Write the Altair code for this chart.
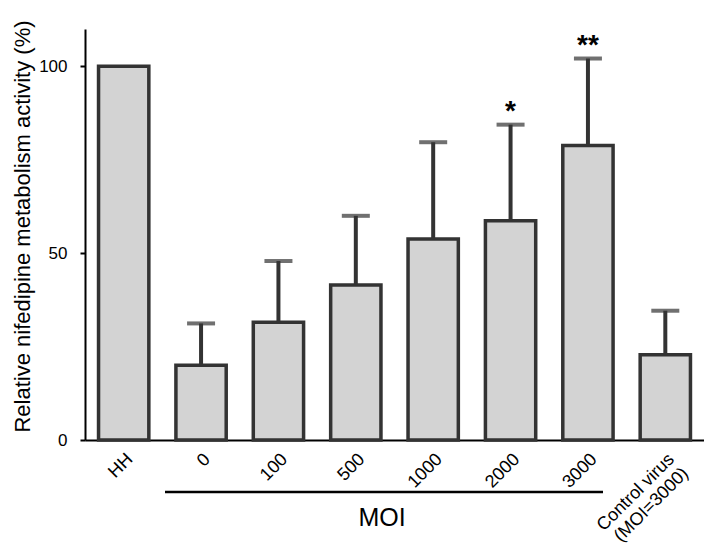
import altair as alt
import pandas as pd

categories = ["HH", "0", "100", "500", "1000", "2000", "3000", "Control virus (MOI=3000)"]
means = [100, 20, 31.5, 41.5, 53.8, 58.7, 78.8, 22.8]
upper = [None, 31.2, 47.9, 60.0, 79.7, 84.4, 102.1, 34.6]
stars = ["", "", "", "", "", "*", "**", ""]

FONT = "Liberation Sans"
DARK = "#333333"

df = pd.DataFrame({"cat": categories, "mean": means, "upper": upper, "star": stars})

x_scale = alt.Scale(domain=categories, paddingInner=0.35, paddingOuter=0.175)
y_scale = alt.Scale(domain=[0, 110], nice=False)

x_axis = alt.Axis(
    title=None, labelAngle=-45, labelAlign="right", labelBaseline="top",
    labelPadding=10, labelFontSize=18, labelFont=FONT, labelColor="black",
    labelLineHeight=20, ticks=False, domainColor="black", domainWidth=2,
    labelExpr="datum.label == 'Control virus (MOI=3000)' ? ['Control virus', '(MOI=3000)'] : datum.label",
)
y_axis = alt.Axis(
    title="Relative nifedipine metabolism activity (%)", values=[0, 50, 100],
    grid=False, tickSize=5, tickWidth=2, tickColor="black", domainColor="black",
    domainWidth=2, labelFontSize=17, labelFont=FONT, labelColor="black", labelPadding=13,
    titleFont=FONT, titleFontSize=22, titleFontWeight="normal", titleColor="black",
    titleX=-56, titleY=197, titleAngle=270, titleAlign="center", titleBaseline="alphabetic",
)

base = alt.Chart(df)

bars = base.mark_bar(fill="#d3d3d3", stroke=DARK, strokeWidth=3.5).encode(
    x=alt.X("cat:N", scale=x_scale, axis=x_axis, sort=categories),
    y=alt.Y("mean:Q", scale=y_scale, axis=y_axis),
)

err = base.transform_filter("isValid(datum.upper)")
rules = err.mark_rule(color=DARK, strokeWidth=4).encode(
    x=alt.X("cat:N", sort=categories), y="mean:Q", y2="upper:Q"
)
caps = err.mark_tick(color=DARK, size=28, thickness=4, orient="horizontal").encode(
    x=alt.X("cat:N", sort=categories), y="upper:Q"
)
star_text = base.transform_filter("datum.star != ''").mark_text(
    font=FONT, fontSize=28, fontWeight="bold", baseline="alphabetic", dy=-5, color="black"
).encode(x=alt.X("cat:N", sort=categories), y="upper:Q", text="star:N")

moi_line = alt.Chart(pd.DataFrame({"label": ["MOI"]})).mark_rule(
    color="black", strokeWidth=2.5
).encode(x=alt.value(80), x2=alt.value(518), y=alt.value(463))
moi_text = alt.Chart(pd.DataFrame({"label": ["MOI"]})).mark_text(
    font=FONT, fontSize=25, baseline="middle", align="center", color="black"
).encode(x=alt.value(297), y=alt.value(489), text="label:N")

chart = alt.layer(bars, rules, caps, star_text, moi_line, moi_text).properties(
    width=619, height=411,
    autosize=alt.AutoSizeParams(type="none"),
    padding={"left": 77, "top": 21, "right": 0, "bottom": 109},
).configure_view(stroke=None)

chart.save("out.html", embed_options={"renderer": "svg", "actions": False})
